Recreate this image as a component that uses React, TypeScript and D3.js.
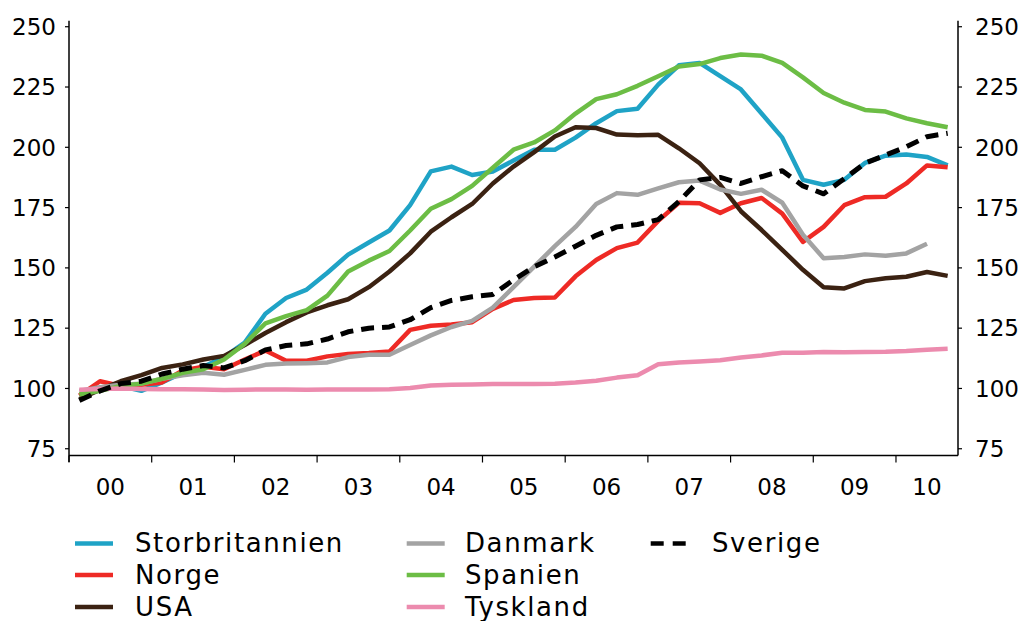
import React from "react";
import * as d3 from "d3";

const yearLabels = ["00", "01", "02", "03", "04", "05", "06", "07", "08", "09", "10"];
const quarterCount = 43; // 2000Q1 .. 2010Q3
const yTicks = [75, 100, 125, 150, 175, 200, 225, 250];

const storbritannien = [97, 100, 101, 99, 102.5, 106.5, 109, 113, 119, 131, 137.5, 141, 148, 155.5, 160.5, 165.5, 176, 190, 192, 188.5, 190, 194.5, 199, 199, 204, 210, 215, 216, 226, 234, 235, 229.5, 224, 214, 204, 186.5, 184.5, 186.5, 193.5, 196.5, 197, 196, 192.5];
const norge = [97, 103, 101, 101.5, 102.5, 107.5, 109, 108, 112, 115.7, 111.5, 111.5, 113.3, 114.3, 114.7, 115.3, 124.3, 126, 126.5, 127.5, 133, 136.7, 137.5, 137.7, 146.5, 153.3, 158.2, 160.5, 169.5, 177, 176.8, 172.8, 176.8, 179, 172.5, 160.8, 167, 176, 179.3, 179.5, 185, 192.5, 191.7];
const usa = [95.5, 99.5, 103, 105.5, 108.5, 110, 112, 113.5, 118, 123, 127.5, 131.5, 134.5, 137, 142, 148.5, 156, 165, 171, 176.5, 185, 192, 198, 204.5, 208.3, 208, 205.3, 205, 205.2, 199.6, 193.4, 184.4, 173.5, 165.7, 157.5, 149.2, 142, 141.5, 144.5, 145.7, 146.3, 148.3, 146.7];
const danmark = [99, 100.5, 101.5, 102, 104, 105.5, 106.5, 105.7, 107.7, 109.8, 110.3, 110.5, 110.8, 113, 114, 114, 118, 122, 125.5, 128, 133.5, 142, 150.5, 159, 167, 176.5, 181, 180.3, 183, 185.5, 186.2, 182.5, 180.7, 182.4, 177, 163.7, 154, 154.5, 155.6, 155, 156, 160, null];
const spanien = [97.5, 99, 101, 102, 104, 106.5, 108, 112, 118.5, 127, 130, 132.5, 138.5, 148.5, 153, 157, 165.5, 174.5, 178.5, 184, 191.5, 199, 202, 207, 214, 220, 222, 225.5, 229.5, 233.5, 234.5, 237, 238.5, 238, 235, 229, 222.5, 218.5, 215.5, 214.8, 212, 210, 208.3];
const tyskland = [99.5, 99.8, 100, 99.8, 99.7, 99.7, 99.6, 99.4, 99.5, 99.6, 99.6, 99.5, 99.6, 99.6, 99.6, 99.7, 100.2, 101.2, 101.5, 101.6, 101.8, 101.8, 101.9, 102, 102.5, 103.2, 104.5, 105.5, 110, 110.8, 111.2, 111.7, 112.8, 113.7, 114.8, 114.8, 115.1, 115, 115.1, 115.2, 115.5, 116.1, 116.5];
const sverige = [95, 99, 102, 103, 106, 108, 109.5, 108.5, 111.5, 116, 117.8, 118.5, 120.5, 123.5, 125, 125.5, 128.5, 133.5, 136.5, 138, 139, 145, 150.5, 154.5, 159, 163.5, 167, 168, 170, 177.5, 186.5, 187.5, 185, 187.8, 190.3, 184, 180.7, 187, 193.4, 196.8, 200.2, 204.4, 205.8];

type Series = { name: string; values: (number | null)[]; color: string; dash?: string };

const series: Series[] = [
  { name: "Storbritannien", values: storbritannien, color: "#1fa3c6" },
  { name: "Norge", values: norge, color: "#ee2a25" },
  { name: "USA", values: usa, color: "#3b2212" },
  { name: "Danmark", values: danmark, color: "#a3a3a3" },
  { name: "Spanien", values: spanien, color: "#6cbd45" },
  { name: "Tyskland", values: tyskland, color: "#ec8bae" },
  { name: "Sverige", values: sverige, color: "#000000", dash: "13,8" },
];

const legendLayout = [
  { col: 0, row: 0 },
  { col: 0, row: 1 },
  { col: 0, row: 2 },
  { col: 1, row: 0 },
  { col: 1, row: 1 },
  { col: 1, row: 2 },
  { col: 2, row: 0 },
];

export default function App() {
  const left = 69;
  const right = 958;
  const x = d3.scaleLinear().domain([0, quarterCount]).range([left, right]);
  const y = d3.scaleLinear().domain([72.2, 252.5]).range([455.5, 20.7]);
  const font = "'DejaVu Sans', Verdana, sans-serif";

  const line = d3
    .line<number | null>()
    .defined((d) => d !== null)
    .x((_, i) => x(i + 0.5))
    .y((d) => y(d as number));

  const yearTicks = d3.range(0, 41, 4);
  const legendLineX = [75, 406.7, 650.7];
  const legendTextX = [135, 465, 712];
  const legendBase = [552, 583.5, 615.5];

  return (
    <svg
      width={1024}
      height={621}
      style={{ position: "fixed", left: 0, top: 0, background: "#fff" }}
      fontFamily={font}
    >
      <rect x={0} y={0} width={1024} height={621} fill="#fff" />
      {/* axes */}
      <line x1={left} x2={left} y1={y(252.5)} y2={462} stroke="#000" strokeWidth={1.5} />
      <line x1={right} x2={right} y1={y(252.5)} y2={y(72.2)} stroke="#000" strokeWidth={1.5} />
      <line x1={left} x2={right} y1={y(72.2)} y2={y(72.2)} stroke="#000" strokeWidth={1.5} />
      {yTicks.map((t) => (
        <g key={"yt" + t}>
          <line x1={left - 4} x2={left} y1={y(t)} y2={y(t)} stroke="#000" strokeWidth={1.2} />
          <line x1={right} x2={right + 4} y1={y(t)} y2={y(t)} stroke="#000" strokeWidth={1.2} />
          <text x={56} y={y(t)} dy="0.36em" textAnchor="end" fontSize={23} fill="#000">
            {t}
          </text>
          <text x={975} y={y(t)} dy="0.36em" textAnchor="start" fontSize={23} fill="#000">
            {t}
          </text>
        </g>
      ))}
      {yearTicks.map((q) => (
        <line key={"xt" + q} x1={x(q)} x2={x(q)} y1={y(72.2)} y2={y(72.2) + 7} stroke="#000" strokeWidth={1.2} />
      ))}
      {yearLabels.map((lab, k) => {
        const start = k * 4;
        const end = Math.min(start + 4, quarterCount);
        return (
          <text key={"xl" + lab} x={x((start + end) / 2)} y={495} textAnchor="middle" fontSize={23} fill="#000">
            {lab}
          </text>
        );
      })}
      {/* series */}
      {series.map((s) => (
        <path
          key={s.name}
          d={line(s.values) || ""}
          fill="none"
          stroke={s.color}
          strokeWidth={s.dash ? 5 : 4.5}
          strokeDasharray={s.dash}
          strokeLinejoin="round"
        />
      ))}
      {/* legend */}
      {series.map((s, i) => {
        const { col, row } = legendLayout[i];
        const base = legendBase[row];
        const lx = legendLineX[col];
        return (
          <g key={"lg" + s.name}>
            {s.dash ? (
              <>
                <line x1={lx} x2={lx + 13} y1={base - 8.5} y2={base - 8.5} stroke={s.color} strokeWidth={4.5} />
                <line x1={lx + 22} x2={lx + 35} y1={base - 8.5} y2={base - 8.5} stroke={s.color} strokeWidth={4.5} />
              </>
            ) : (
              <line x1={lx} x2={lx + 38} y1={base - 8.5} y2={base - 8.5} stroke={s.color} strokeWidth={4.5} />
            )}
            <text x={legendTextX[col]} y={base} fontSize={26} letterSpacing={1.6} fill="#000">
              {s.name}
            </text>
          </g>
        );
      })}
    </svg>
  );
}
